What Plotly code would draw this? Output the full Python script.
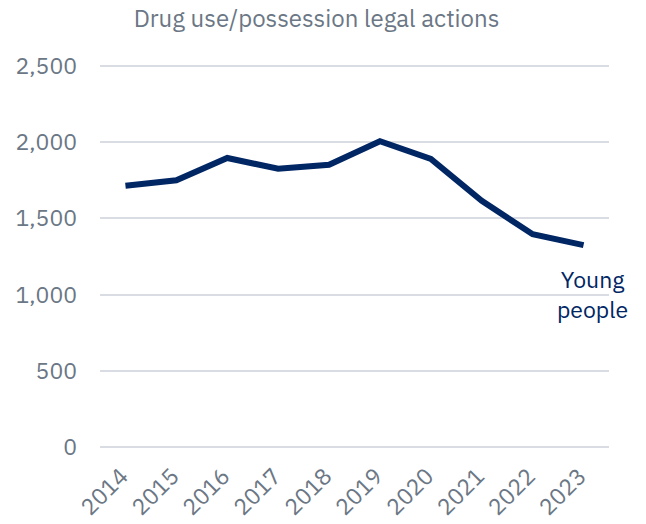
import plotly.graph_objects as go

years = [2014, 2015, 2016, 2017, 2018, 2019, 2020, 2021, 2022, 2023]
year_labels = ["2014", "2015", "2016", "2017", "2018", "2019", "2020", "2021", "2022", "2023"]
young_people = [1714, 1750, 1896, 1825, 1851, 2006, 1890, 1615, 1396, 1325]
y_ticks = [0, 500, 1000, 1500, 2000, 2500]
y_tick_text = ["0", "500", "1,000", "1,500", "2,000", "2,500"]

NAVY = "#002664"
GREY = "#6b7785"
FONT = "IBM Plex Sans, Roboto, sans-serif"

fig = go.Figure()
fig.add_trace(go.Scatter(
    x=years, y=young_people, mode="lines",
    line=dict(color=NAVY, width=6), cliponaxis=False, showlegend=False,
))
fig.add_annotation(
    x=years[-1], y=1000, xref="x", yref="y", text="Young<br>people",
    showarrow=False, xshift=9, yshift=1, font=dict(family=FONT, size=23, color=NAVY),
    align="center",
)
fig.update_layout(
    width=646, height=524,
    margin=dict(l=100, r=37, t=64, b=75),
    plot_bgcolor="white", paper_bgcolor="white",
    font=dict(family=FONT, color=GREY),
    title=dict(text="Drug use/possession legal actions", xref="container", x=0.49, xanchor="center",
               yref="container", y=0.965, yanchor="middle", font=dict(size=24, color=GREY)),
)
fig.update_yaxes(
    range=[-12, 2512], tickvals=y_ticks, ticktext=y_tick_text, automargin=False,
    showgrid=True, gridcolor="#d9dde3", gridwidth=2, zeroline=False,
    showline=False, ticks="", tickfont=dict(size=23, color=GREY), ticklabelstandoff=22,
)
fig.update_xaxes(
    type="linear", range=[years[0] - 0.5, years[-1] + 0.5], automargin=False,
    tickvals=years, ticktext=year_labels,
    showgrid=False, showline=False, zeroline=False, ticks="",
    tickangle=-45, tickfont=dict(size=23, color=GREY),
    ticklabelstandoff=8, ticklabelshift=-4,
)
fig.write_html("out.html")
